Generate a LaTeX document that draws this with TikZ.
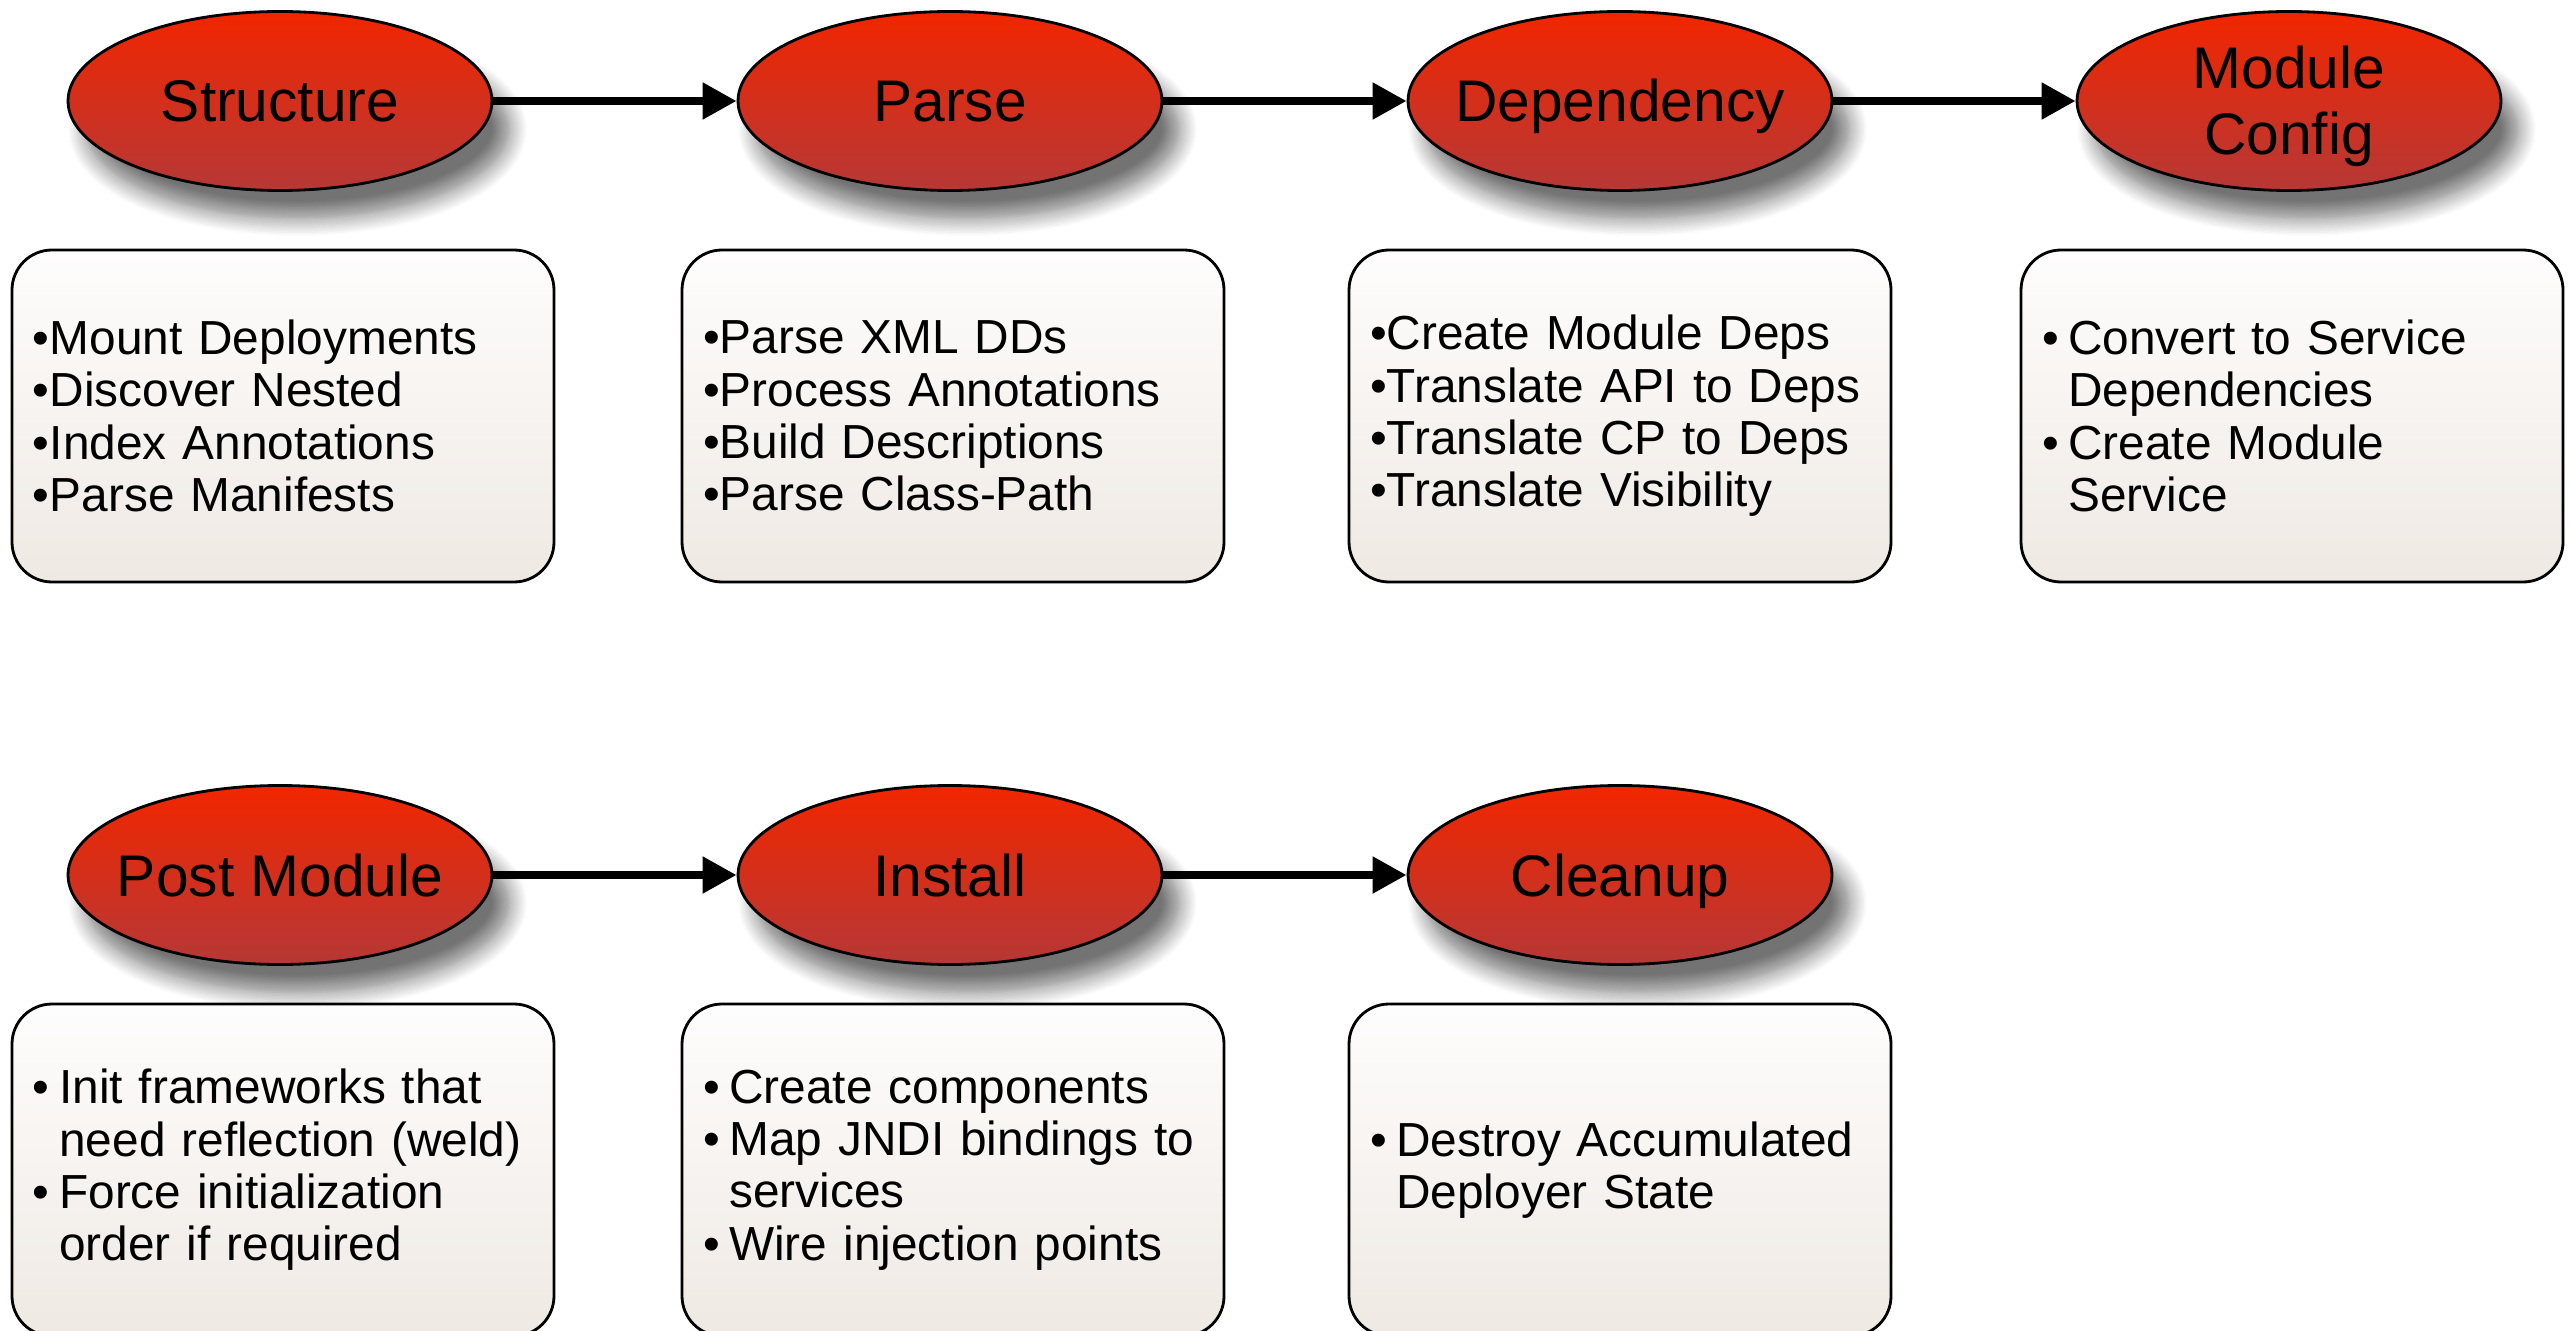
\documentclass[tikz,border=0pt]{standalone}
\usepackage{fontspec}
\setmainfont{Liberation Sans}
\usepackage{tikz}
\usetikzlibrary{shapes.geometric, arrows.meta, shadows.blur}
\definecolor{stagetop}{RGB}{241,38,0}
\definecolor{stagebot}{RGB}{182,56,54}
\definecolor{tasktop}{RGB}{254,253,253}
\definecolor{taskbot}{RGB}{239,233,227}
\newcommand{\bl}{\textbullet\hspace{0.2em}}
\newcommand{\hng}{\hphantom{\bl}}
\tikzset{
    stage/.style={ellipse, draw, line width=0.8pt, top color=stagetop,
    	bottom color=stagebot, minimum width=4.24cm, minimum height=1.79cm,
    	inner xsep=-1.2cm, inner ysep=-0.4cm, align=center,
    	text height=0.42cm, text depth=0pt,
    	font=\fontsize{16.7pt}{19pt}\selectfont,
    	blur shadow={shadow xshift=5pt, shadow yshift=-8pt, shadow blur radius=5pt,
    	shadow blur steps=12, shadow opacity=55}}
}
\tikzset{
    tasks/.style={rectangle, rounded corners=0.4cm, draw, line width=0.8pt,
    	top color=tasktop, bottom color=taskbot, minimum width=5.42cm,
    	minimum height=3.32cm, text width=5.0cm, inner sep=0pt, align=left,
    	font=\fontsize{13.6pt}{14.9pt}\selectfont}
}
\tikzset{
    every edge/.append style={line width=2.3pt, -{Triangle[length=0.34cm, width=0.35cm]}}
}

\begin{document}
\begin{tikzpicture}
	\useasboundingbox (0,0) rectangle (25.72,-13.31);
	\node (1) [stage] at (2.80cm, -1.01cm) {Structure};
	\node (2) [stage] at (9.50cm, -1.01cm) {Parse};
	\node (3) [stage] at (16.20cm, -1.01cm) {Dependency};
	\node (4) [stage, text height=1.08cm] at (22.89cm, -1.01cm) {Module\\Config};
	\node (5) [stage] at (2.80cm, -8.75cm) {Post Module};
	\node (6) [stage] at (9.50cm, -8.75cm) {Install};
	\node (7) [stage] at (16.20cm, -8.75cm) {Cleanup};
	
	\node (11) [tasks] at (2.83cm, -4.16cm) {\textbullet Mount Deployments\\\textbullet Discover Nested\\\textbullet Index Annotations\\\textbullet Parse Manifests};
	\node (12) [tasks] at (9.53cm, -4.16cm) {\textbullet Parse XML DDs\\\textbullet Process Annotations\\\textbullet Build Descriptions\\\textbullet Parse Class-Path};
	\node (13) [tasks] at (16.20cm, -4.16cm) {\textbullet Create Module Deps\\\textbullet Translate API to Deps\\\textbullet Translate CP to Deps\\\textbullet Translate Visibility};
	\node (14) [tasks] at (22.92cm, -4.16cm) {\bl Convert to Service\\\hng Dependencies\\\bl Create Module\\\hng Service};
	\node (15) [tasks] at (2.83cm, -11.70cm) {\bl Init frameworks that\\\hng need reflection (weld)\\\bl Force initialization\\\hng order if required};
	\node (16) [tasks] at (9.53cm, -11.70cm) {\bl Create components\\\bl Map JNDI bindings to\\\hng services\\\bl Wire injection points};
	\node (17) [tasks] at (16.20cm, -11.70cm) {\bl Destroy Accumulated\\\hng Deployer State};
	
	\draw (1) edge (2); \draw (2) edge (3); \draw (3) edge (4);
	\draw (5) edge (6); \draw (6) edge (7);
\end{tikzpicture}
\end{document}
